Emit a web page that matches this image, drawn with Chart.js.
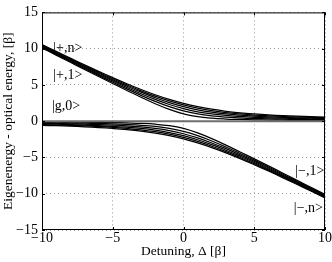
<!DOCTYPE html>
<html>
<head>
<meta charset="UTF-8">
<title>Dressed states</title>
<script src="https://cdn.jsdelivr.net/npm/chart.js@4.4.4/dist/chart.umd.min.js"></script>
<style>
  html, body { margin: 0; padding: 0; background: #fff; }
  #wrap { width: 332px; height: 262px; }
</style>
</head>
<body>
<div id="wrap"><canvas id="c"></canvas></div>
<script>
// detuning grid
const detuning = [-10,-9,-8,-7,-6,-5,-4,-3,-2,-1,0,1,2,3,4,5,6,7,8,9,10];

// upper branch |+,1> ... |+,n>
const plus1 = [10.10,9.11,8.12,7.14,6.16,5.19,4.24,3.30,2.41,1.62,1.00,0.62,0.41,0.30,0.24,0.19,0.16,0.14,0.12,0.11,0.10];
const plus2 = [10.20,9.22,8.24,7.28,6.32,5.37,4.45,3.56,2.73,2.00,1.41,1.00,0.73,0.56,0.45,0.37,0.32,0.28,0.24,0.22,0.20];
const plus3 = [10.29,9.32,8.36,7.41,6.46,5.54,4.65,3.79,3.00,2.30,1.73,1.30,1.00,0.79,0.65,0.54,0.46,0.41,0.36,0.32,0.29];
const plus4 = [10.39,9.42,8.47,7.53,6.61,5.70,4.83,4.00,3.24,2.56,2.00,1.56,1.24,1.00,0.83,0.70,0.61,0.53,0.47,0.42,0.39];
const plus5 = [10.48,9.53,8.58,7.65,6.74,5.85,5.00,4.19,3.45,2.79,2.24,1.79,1.45,1.19,1.00,0.85,0.74,0.65,0.58,0.53,0.48];
const plus6 = [10.57,9.62,8.69,7.77,6.87,6.00,5.16,4.37,3.65,3.00,2.45,2.00,1.65,1.37,1.16,1.00,0.87,0.77,0.69,0.62,0.57];

// lower branch |-,1> ... |-,n>
const minus1 = [-0.10,-0.11,-0.12,-0.14,-0.16,-0.19,-0.24,-0.30,-0.41,-0.62,-1.00,-1.62,-2.41,-3.30,-4.24,-5.19,-6.16,-7.14,-8.12,-9.11,-10.10];
const minus2 = [-0.20,-0.22,-0.24,-0.28,-0.32,-0.37,-0.45,-0.56,-0.73,-1.00,-1.41,-2.00,-2.73,-3.56,-4.45,-5.37,-6.32,-7.28,-8.24,-9.22,-10.20];
const minus3 = [-0.29,-0.32,-0.36,-0.41,-0.46,-0.54,-0.65,-0.79,-1.00,-1.30,-1.73,-2.30,-3.00,-3.79,-4.65,-5.54,-6.46,-7.41,-8.36,-9.32,-10.29];
const minus4 = [-0.39,-0.42,-0.47,-0.53,-0.61,-0.70,-0.83,-1.00,-1.24,-1.56,-2.00,-2.56,-3.24,-4.00,-4.83,-5.70,-6.61,-7.53,-8.47,-9.42,-10.39];
const minus5 = [-0.48,-0.53,-0.58,-0.65,-0.74,-0.85,-1.00,-1.19,-1.45,-1.79,-2.24,-2.79,-3.45,-4.19,-5.00,-5.85,-6.74,-7.65,-8.58,-9.53,-10.48];
const minus6 = [-0.57,-0.62,-0.69,-0.77,-0.87,-1.00,-1.16,-1.37,-1.65,-2.00,-2.45,-3.00,-3.65,-4.37,-5.16,-6.00,-6.87,-7.77,-8.69,-9.62,-10.57];

// ground state |g,0>
const ground = [0,0,0,0,0,0,0,0,0,0,0,0,0,0,0,0,0,0,0,0,0];

// state labels [text, detuning, energy]
const stateLabels = [
  ['|+,n>', -9.2, 10.1],
  ['|+,1>', -9.2, 6.3],
  ['|g,0>', -9.3, 2.0],
  ['|\u2212,1>', 7.9, -6.9],
  ['|\u2212,n>', 7.8, -12.0]
];

const SERIF = '"Liberation Serif", "DejaVu Serif", serif';

const pts = arr => detuning.map((d, i) => ({ x: d, y: arr[i] }));
const curve = arr => ({
  data: pts(arr), borderColor: '#000', borderWidth: 1.25,
  pointRadius: 0, tension: 0.4, fill: false
});

const datasets = [
  { data: pts(ground), borderColor: '#6e6e6e', borderWidth: 2, pointRadius: 0, fill: false },
  curve(plus1), curve(plus2), curve(plus3), curve(plus4), curve(plus5), curve(plus6),
  curve(minus1), curve(minus2), curve(minus3), curve(minus4), curve(minus5), curve(minus6)
];

// frame, inward ticks and state labels
const decor = {
  id: 'decor',
  afterDraw(chart) {
    const { ctx, chartArea: a, scales: { x, y } } = chart;
    ctx.save();
    ctx.strokeStyle = '#000';
    ctx.lineWidth = 1;
    ctx.strokeRect(a.left + 0.5, a.top + 0.5, a.right - a.left - 1, a.bottom - a.top - 1);
    ctx.beginPath();
    [-10, -5, 0, 5, 10].forEach(v => {
      const px = Math.round(x.getPixelForValue(v)) + 0.5;
      ctx.moveTo(px, a.bottom); ctx.lineTo(px, a.bottom - 3);
      ctx.moveTo(px, a.top); ctx.lineTo(px, a.top + 3);
    });
    [-15, -10, -5, 0, 5, 10, 15].forEach(v => {
      const py = Math.round(y.getPixelForValue(v)) + 0.5;
      ctx.moveTo(a.left, py); ctx.lineTo(a.left + 3, py);
      ctx.moveTo(a.right, py); ctx.lineTo(a.right - 3, py);
    });
    ctx.stroke();
    ctx.fillStyle = '#000';
    ctx.font = '14px ' + SERIF;
    ctx.textBaseline = 'middle';
    stateLabels.forEach(([t, dx, ey]) => {
      ctx.fillText(t, x.getPixelForValue(dx), y.getPixelForValue(ey));
    });
    ctx.restore();
  }
};

const minusSign = v => String(v).replace('-', '\u2212');

new Chart(document.getElementById('c'), {
  type: 'line',
  data: { datasets },
  options: {
    responsive: true,
    maintainAspectRatio: false,
    animation: false,
    layout: { padding: { top: 8, right: 7, left: 0, bottom: 0 } },
    plugins: { legend: { display: false }, tooltip: { enabled: false } },
    scales: {
      x: {
        type: 'linear', min: -10, max: 10,
        ticks: { stepSize: 5, color: '#000', font: { family: SERIF, size: 14 }, padding: 0, callback: minusSign },
        grid: { color: '#9a9a9a', drawTicks: false, lineWidth: 1 },
        border: { display: false, dash: [1, 3] },
        title: { display: true, text: 'Detuning, \u0394 [\u03b2]', color: '#000', font: { family: SERIF, size: 13.5 }, padding: { top: 0, bottom: 2 } },
        afterFit: s => { s.height = 32; }
      },
      y: {
        type: 'linear', min: -15, max: 15,
        ticks: { stepSize: 5, color: '#000', font: { family: SERIF, size: 14 }, padding: 4, callback: minusSign },
        grid: { color: '#9a9a9a', drawTicks: false, lineWidth: 1 },
        border: { display: false, dash: [1, 3] },
        title: { display: true, text: 'Eigenenergy - optical energy, [\u03b2]', color: '#000', font: { family: SERIF, size: 13.5 }, padding: { top: 0, bottom: 0 } },
        afterFit: s => { s.width = 42; }
      }
    }
  },
  plugins: [decor]
});
</script>
</body>
</html>
